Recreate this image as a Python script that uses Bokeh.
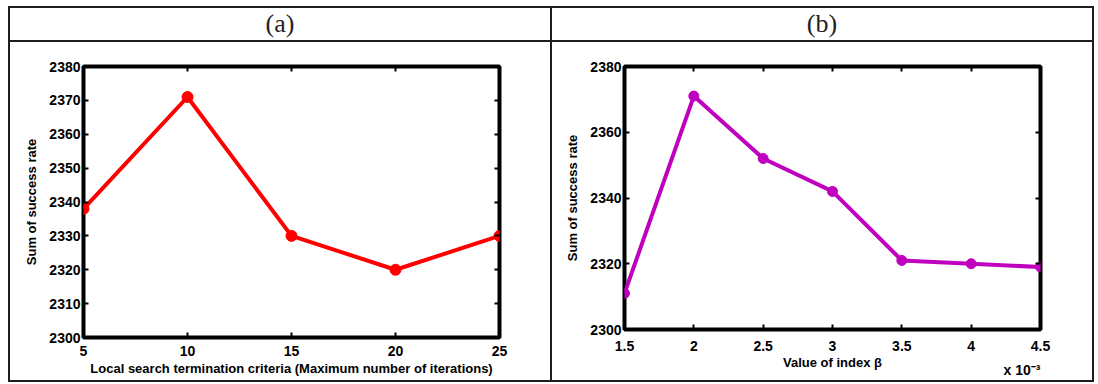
from bokeh.plotting import figure
from bokeh.models import Range1d, LinearAxis, FixedTicker, Div, Spacer, Title, CustomJSTickFormatter
from bokeh.layouts import row, column
from bokeh.embed import file_html
from bokeh.resources import INLINE

# ---------------- data ----------------
ITERATIONS = [5, 10, 15, 20, 25]
SUM_A = [2338, 2371, 2330, 2320, 2330]

BETA_E3 = [1.5, 2.0, 2.5, 3.0, 3.5, 4.0, 4.5]   # value of index beta, x 10^-3
SUM_B = [2311, 2371, 2352, 2342, 2321, 2320, 2319]

XTICKS_A = [5, 10, 15, 20, 25]
YTICKS_A = [2300, 2310, 2320, 2330, 2340, 2350, 2360, 2370, 2380]
XTICKS_B = [1.5, 2.0, 2.5, 3.0, 3.5, 4.0, 4.5]
YTICKS_B = [2300, 2320, 2340, 2360, 2380]

HEADER_A = "(a)"
HEADER_B = "(b)"
XLABEL_A = "Local search termination criteria (Maximum number of iterations)"
XLABEL_B = "Value of index \u03b2"
YLABEL = "Sum of success rate"
SCALE_B = "x 10\u207b\u00b3"

FONT = "Liberation Sans"
LINE = "#1e1e1e"


def make_fig(width, height, xr, yr, xt, yt, xlabel, mb, bottom_standoff, bottom_label_standoff):
    p = figure(width=width, height=height, x_range=Range1d(*xr), y_range=Range1d(*yr),
               output_backend="svg", toolbar_location=None, margin=0,
               min_border_left=mb[0], min_border_right=mb[1],
               min_border_top=mb[2], min_border_bottom=mb[3])
    p.frame_align = False
    p.background_fill_color = "white"
    p.border_fill_color = "white"
    p.outline_line_color = "black"
    p.outline_line_width = 4
    p.xgrid.visible = False
    p.ygrid.visible = False

    p.add_layout(LinearAxis(), "above")
    p.add_layout(LinearAxis(), "right")
    for ax in p.axis:
        ax.axis_line_color = None
        ax.major_tick_in = 5
        ax.major_tick_out = 0
        ax.major_tick_line_width = 2
        ax.major_tick_line_color = "black"
        ax.minor_tick_line_color = None
        ax.major_label_text_font = FONT
        ax.major_label_text_font_style = "bold"
        ax.major_label_text_font_size = "14px"
        ax.major_label_text_color = "black"
        ax.axis_label_text_font = FONT
        ax.axis_label_text_font_style = "bold"
        ax.axis_label_text_font_size = "13px"
        ax.axis_label_text_color = "black"
    for ax in [p.below[0], p.above[0]]:
        ax.ticker = FixedTicker(ticks=xt)
    for ax in [p.left[0], p.right[0]]:
        ax.ticker = FixedTicker(ticks=yt)
    for ax in [p.above[0], p.right[0]]:
        ax.major_label_text_color = None
        ax.major_label_text_font_size = "6px"
        ax.major_label_standoff = 0

    bx = p.below[0]
    bx.axis_label = xlabel
    bx.major_label_standoff = bottom_standoff
    bx.axis_label_standoff = bottom_label_standoff
    bx.formatter = CustomJSTickFormatter(code="return tick.toString()")

    ly = p.left[0]
    ly.axis_label = YLABEL
    ly.major_label_standoff = 3
    ly.axis_label_standoff = 7
    return p


# ---------------- chart (a) ----------------
pa = make_fig(540, 338, (5, 25), (2300, 2380), XTICKS_A, YTICKS_A, XLABEL_A,
              (73, 51, 24, 43), 8, 2)
pa.line(ITERATIONS, SUM_A, line_color="#ff0000", line_width=4)
pa.scatter(ITERATIONS, SUM_A, size=11, fill_color="#ff0000", line_color="#ff0000")

# ---------------- chart (b) ----------------
pb = make_fig(540, 338, (1.5, 4.5), (2300, 2380), XTICKS_B, YTICKS_B, XLABEL_B,
              (72, 52, 24, 51), 11, 1)
pb.line(BETA_E3, SUM_B, line_color="#bf00bf", line_width=4)
pb.scatter(BETA_E3, SUM_B, size=10, fill_color="#bf00bf", line_color="#bf00bf")
pb.add_layout(Title(text=SCALE_B, align="right", vertical_align="top", standoff=-22,
                    text_font=FONT, text_font_style="bold", text_font_size="14px",
                    text_color="black"), "below")


# ---------------- table frame ----------------
def vline(h):
    return Spacer(width=2, height=h, margin=0, styles={"background-color": LINE})


def hline():
    return Spacer(width=1086, height=2, margin=0, styles={"background-color": LINE})


def header(text, w):
    return Div(text=text, width=w, height=32, margin=0,
               styles={"text-align": "center", "font-family": "Liberation Serif",
                       "font-size": "26px", "line-height": "32px", "color": "#222",
                       "background-color": "white", "overflow": "hidden"})


layout = column(
    hline(),
    row(vline(32), header(HEADER_A, 540), vline(32), header(HEADER_B, 540), vline(32), spacing=0),
    hline(),
    row(vline(338), pa, vline(338), pb, vline(338), spacing=0),
    hline(),
    spacing=0,
    margin=(6, 0, 0, 8),
)

open("out.html", "w").write(file_html(layout, INLINE))
